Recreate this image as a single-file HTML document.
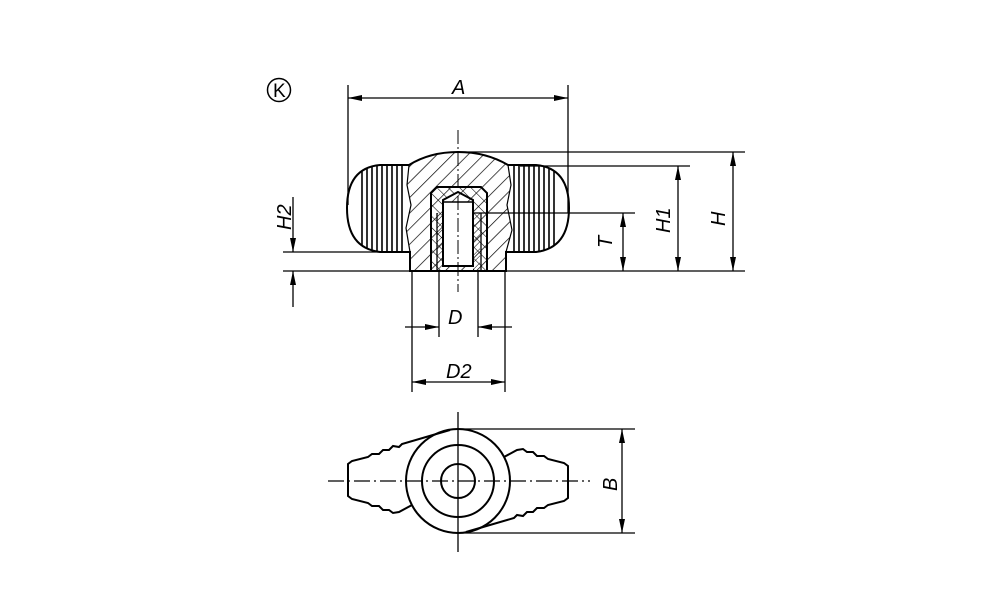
<!DOCTYPE html>
<html><head><meta charset="utf-8"><style>
html,body{margin:0;padding:0;background:#fff}
svg{display:block}
text{font-family:"Liberation Sans",sans-serif;font-style:italic;font-size:20px;fill:#000}
text.k{font-style:normal;font-size:19px}
</style></head><body>
<svg width="1000" height="611" viewBox="0 0 1000 611" xmlns="http://www.w3.org/2000/svg">
<defs>
<marker id="a" viewBox="0 0 14 6" refX="14" refY="3" markerWidth="14" markerHeight="6" orient="auto-start-reverse" markerUnits="userSpaceOnUse"><path d="M0,0L14,3L0,6z" fill="#000"/></marker>
<clipPath id="lw"><path d="M408,165 L380,165 Q347,168 347,208 Q347,248 380,252 L408,252 Z"/></clipPath>
<clipPath id="rw"><path d="M508,165 L536,165 Q569,168 569,208 Q569,248 536,252 L508,252 Z"/></clipPath>
<clipPath id="hub"><path d="M409,165 Q430,152 458,152 Q486,152 508,165 L511,185 L507,205 L512,230 L506,252 L506,271 L410,271 L410,252 L406,228 L411,205 L407,185 Z M431,193 L437,187 L481,187 L487,193 L487,271 L431,271 Z"/></clipPath>
<pattern id="h" patternUnits="userSpaceOnUse" width="11" height="11" patternTransform="rotate(45)"><line x1="0" y1="0" x2="0" y2="11" stroke="#000" stroke-width="1.4"/></pattern>
<pattern id="h2" patternUnits="userSpaceOnUse" width="5" height="5" patternTransform="rotate(45)"><line x1="0" y1="0" x2="0" y2="5" stroke="#000" stroke-width="1"/></pattern>
<pattern id="h3" patternUnits="userSpaceOnUse" width="8" height="8" patternTransform="rotate(-45)"><line x1="0" y1="0" x2="0" y2="8" stroke="#000" stroke-width="1.1"/></pattern>
</defs>
<g fill="none" stroke="#000" stroke-width="1.3">
<circle cx="279" cy="90" r="11.5" stroke-width="1.5"/>
<line x1="348" y1="85" x2="348" y2="205"/>
<line x1="568" y1="85" x2="568" y2="213"/>
<line x1="348" y1="98" x2="568" y2="98" marker-start="url(#a)" marker-end="url(#a)"/>
<line x1="458" y1="152" x2="745" y2="152"/>
<line x1="520" y1="166" x2="690" y2="166"/>
<line x1="473" y1="213" x2="635" y2="213"/>
<line x1="283" y1="271" x2="745" y2="271"/>
<line x1="283" y1="252" x2="380" y2="252"/>
<line x1="733" y1="152" x2="733" y2="271" marker-start="url(#a)" marker-end="url(#a)"/>
<line x1="678" y1="166" x2="678" y2="271" marker-start="url(#a)" marker-end="url(#a)"/>
<line x1="623" y1="213" x2="623" y2="271" marker-start="url(#a)" marker-end="url(#a)"/>
<line x1="293" y1="197" x2="293" y2="252" marker-end="url(#a)"/>
<line x1="293" y1="307" x2="293" y2="271" marker-end="url(#a)"/>
<line x1="439" y1="271" x2="439" y2="337"/>
<line x1="478" y1="271" x2="478" y2="337"/>
<line x1="405" y1="327" x2="439" y2="327" marker-end="url(#a)"/>
<line x1="512" y1="327" x2="478" y2="327" marker-end="url(#a)"/>
<line x1="412" y1="271" x2="412" y2="392"/>
<line x1="505" y1="271" x2="505" y2="392"/>
<line x1="412" y1="382" x2="505" y2="382" marker-start="url(#a)" marker-end="url(#a)"/>
</g>
<g stroke="#000" stroke-width="1.6" clip-path="url(#lw)">
<line x1="362" y1="150" x2="362" y2="270"/><line x1="367" y1="150" x2="367" y2="270"/><line x1="372" y1="150" x2="372" y2="270"/><line x1="377" y1="150" x2="377" y2="270"/><line x1="382" y1="150" x2="382" y2="270"/><line x1="387" y1="150" x2="387" y2="270"/><line x1="392" y1="150" x2="392" y2="270"/><line x1="397" y1="150" x2="397" y2="270"/><line x1="402" y1="150" x2="402" y2="270"/>
</g>
<g stroke="#000" stroke-width="1.6" clip-path="url(#rw)">
<line x1="554" y1="150" x2="554" y2="270"/><line x1="549" y1="150" x2="549" y2="270"/><line x1="544" y1="150" x2="544" y2="270"/><line x1="539" y1="150" x2="539" y2="270"/><line x1="534" y1="150" x2="534" y2="270"/><line x1="529" y1="150" x2="529" y2="270"/><line x1="524" y1="150" x2="524" y2="270"/><line x1="519" y1="150" x2="519" y2="270"/><line x1="514" y1="150" x2="514" y2="270"/>
</g>
<rect x="400" y="145" width="120" height="130" fill="url(#h)" clip-path="url(#hub)"/>
<path d="M431,193 L437,187 L481,187 L487,193 L487,271 L473,271 L473,200 L458,192 L443,200 L443,271 L431,271 Z" fill="url(#h3)"/>
<rect x="437" y="213" width="6" height="58" fill="url(#h2)"/>
<rect x="473" y="213" width="7" height="58" fill="url(#h2)"/>
<rect x="443" y="202" width="30" height="64" fill="#fff"/>
<g fill="none" stroke="#000" stroke-width="2">
<path d="M410,271 L410,252 L380,252 Q347,248 347,208 Q347,168 380,165 L409,165 Q430,152 458,152 Q486,152 508,165 L536,165 Q569,168 569,208 Q569,248 536,252 L506,252 L506,271 Z"/>
<path d="M409,165 L407,185 L411,205 L406,228 L410,252" stroke-width="1.2"/>
<path d="M508,165 L511,185 L507,205 L512,230 L506,252" stroke-width="1.2"/>
<path d="M431,271 L431,193 L437,187 L481,187 L487,193 L487,271"/>
<path d="M443,266 L443,200 L458,192 L473,200 L473,266 Z"/>
<line x1="443" y1="202" x2="473" y2="202" stroke-width="1.5"/>
<line x1="437" y1="213" x2="437" y2="271" stroke-width="1.3"/>
<line x1="481" y1="213" x2="481" y2="271" stroke-width="1.3"/>
</g>
<line x1="458" y1="130" x2="458" y2="292" stroke="#000" stroke-width="1" stroke-dasharray="14,3,2,3"/>
<g fill="none" stroke="#000" stroke-width="1.3">
<line x1="458" y1="412" x2="458" y2="552"/>
<line x1="328" y1="481" x2="590" y2="481" stroke-dasharray="16,4,2,4"/>
<line x1="458" y1="429" x2="635" y2="429"/>
<line x1="458" y1="533" x2="635" y2="533"/>
<line x1="622" y1="429" x2="622" y2="533" marker-start="url(#a)" marker-end="url(#a)"/>
</g>
<g fill="none" stroke="#000" stroke-width="2">
<circle cx="458" cy="481" r="52"/>
<circle cx="458" cy="481" r="36"/>
<circle cx="458" cy="481" r="17"/>
<path d="M450,430 L402,444 L399,447 L393,446 L389,450 L383,450 L379,454 L372,454 L368,457 L352,461 L348,464 L348,496 L352,499 L368,503 L372,506 L379,506 L383,510 L389,510 L393,513 L399,512 L412,505"/>
<path d="M466,532 L514,518 L517,515 L523,516 L527,512 L533,512 L537,508 L544,508 L548,505 L564,501 L568,498 L568,466 L564,463 L548,459 L544,456 L537,456 L533,452 L527,452 L523,449 L517,450 L504,457"/>
</g>
<text class="k" x="273" y="97">K</text>
<text x="452" y="94">A</text>
<text x="448" y="324">D</text>
<text x="446" y="378">D2</text>
<text transform="translate(291,230) rotate(-90)">H2</text>
<text transform="translate(612,248) rotate(-90)">T</text>
<text transform="translate(670,233) rotate(-90)">H1</text>
<text transform="translate(725,226) rotate(-90)">H</text>
<text transform="translate(617,491) rotate(-90)">B</text>
</svg>
</body></html>
